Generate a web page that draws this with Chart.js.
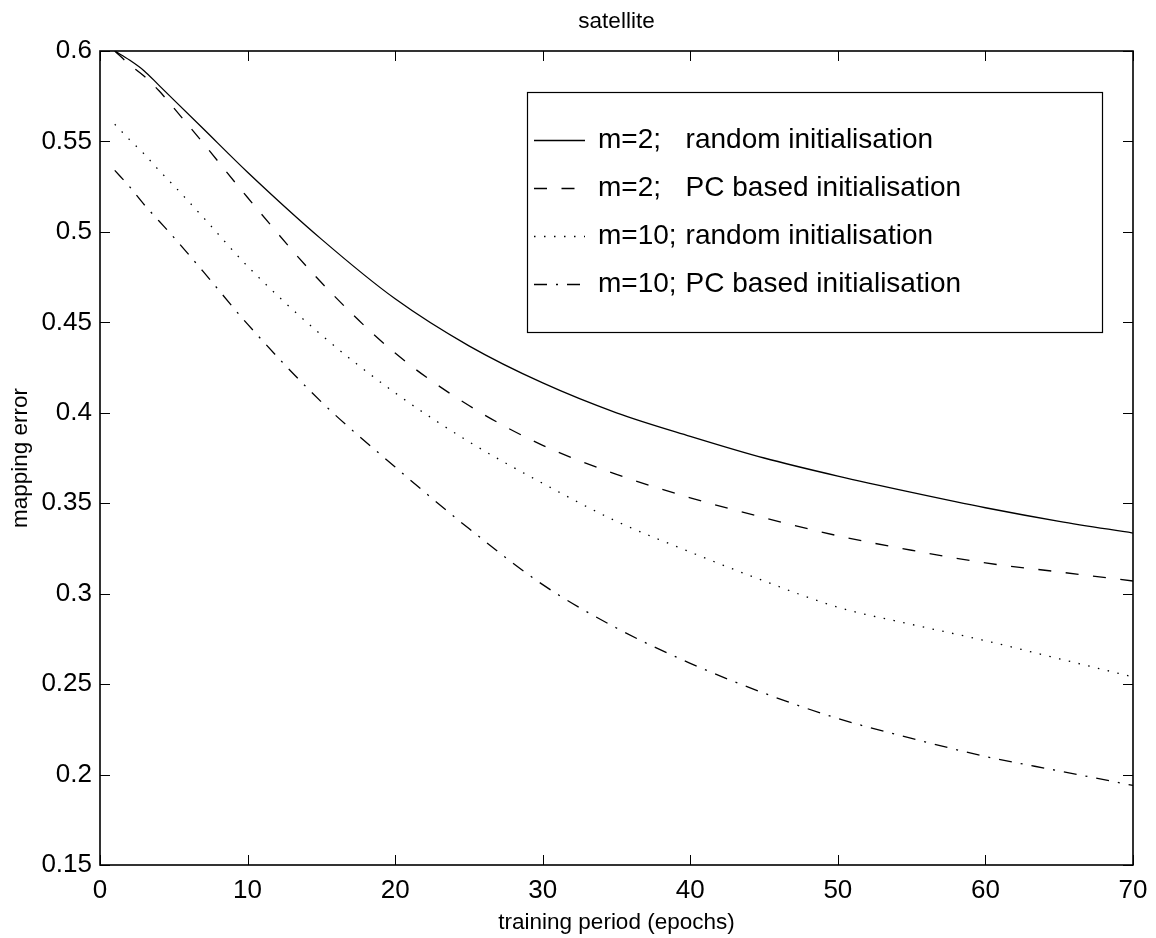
<!DOCTYPE html>
<html>
<head>
<meta charset="utf-8">
<script src="https://cdn.jsdelivr.net/npm/chart.js@4.4.1/dist/chart.umd.min.js"></script>
<style>
	body { margin: 0; background: #fff; }
	canvas { display: block; }
</style>
</head>
<body>
<canvas id="errorChart" width="1156" height="938"></canvas>
<script>
// values
const epochs    = [1, 2, 3, 4, 5, 7, 10, 15, 20, 25, 30, 35, 40, 45, 50, 55, 60, 65, 70];
const m2Random  = [0.600, 0.595, 0.589, 0.581, 0.573, 0.557, 0.533, 0.496, 0.463, 0.437, 0.4165, 0.400, 0.387, 0.375, 0.365, 0.356, 0.3475, 0.340, 0.3335];
const m2Pc      = [0.600, 0.5925, 0.586, 0.578, 0.5685, 0.549, 0.519, 0.472, 0.433, 0.404, 0.382, 0.366, 0.353, 0.342, 0.332, 0.324, 0.317, 0.312, 0.307];
const m10Random = [0.5595, 0.551, 0.543, 0.534, 0.5256, 0.508, 0.481, 0.443, 0.411, 0.384, 0.361, 0.340, 0.323, 0.307, 0.2925, 0.283, 0.274, 0.264, 0.254];
const m10Pc     = [0.534, 0.525, 0.515, 0.506, 0.497, 0.478, 0.449, 0.406, 0.370, 0.336, 0.305, 0.281, 0.2615, 0.245, 0.231, 0.220, 0.210, 0.202, 0.194];

const seriesLabels = [
	'm=2;   random initialisation',
	'm=2;   PC based initialisation',
	'm=10; random initialisation',
	'm=10; PC based initialisation'
];
const xTicks = [0, 10, 20, 30, 40, 50, 60, 70];
const yTicks = [0.15, 0.2, 0.25, 0.3, 0.35, 0.4, 0.45, 0.5, 0.55, 0.6];

const FONT = 'Liberation Sans, Arial, Helvetica, sans-serif';

function toPoints(values) {
	return epochs.map((e, i) => ({ x: e, y: values[i] }));
}

function makeSeries(label, values, dash) {
	return {
		label: label,
		data: toPoints(values),
		borderColor: '#000',
		borderWidth: 1.3,
		borderDash: dash,
		pointRadius: 0,
		fill: false,
		cubicInterpolationMode: 'monotone'
	};
}

// MATLAB style box with inward ticks on all four sides
const boxPlugin = {
	id: 'boxPlugin',
	afterDraw(chart) {
		const { ctx, chartArea: a, scales } = chart;
		const len = 10;
		ctx.save();
		ctx.strokeStyle = '#000';
		ctx.lineWidth = 1;
		ctx.setLineDash([]);
		ctx.beginPath();
		xTicks.forEach(v => {
			const px = Math.round(scales.x.getPixelForValue(v)) + 0.5;
			ctx.moveTo(px, a.bottom); ctx.lineTo(px, a.bottom - len);
			ctx.moveTo(px, a.top); ctx.lineTo(px, a.top + len);
		});
		yTicks.forEach(v => {
			const py = Math.round(scales.y.getPixelForValue(v)) + 0.5;
			ctx.moveTo(a.left, py); ctx.lineTo(a.left + len, py);
			ctx.moveTo(a.right, py); ctx.lineTo(a.right - len, py);
		});
		ctx.stroke();
		ctx.lineWidth = 1.6;
		ctx.strokeRect(a.left, a.top, a.right - a.left, a.bottom - a.top);
		ctx.restore();
	}
};

// legend box in the upper right, like the original figure
const legendPlugin = {
	id: 'legendPlugin',
	afterDatasetsDraw(chart) {
		const { ctx } = chart;
		const box = { left: 527, top: 92, right: 1102, bottom: 332 };
		ctx.save();
		ctx.fillStyle = '#fff';
		ctx.fillRect(box.left, box.top, box.right - box.left, box.bottom - box.top);
		ctx.strokeStyle = '#000';
		ctx.lineWidth = 1.2;
		ctx.setLineDash([]);
		ctx.strokeRect(box.left + 0.5, box.top + 0.5, box.right - box.left, box.bottom - box.top);

		ctx.font = '28px ' + FONT;
		ctx.fillStyle = '#000';
		ctx.textBaseline = 'middle';
		const textX = 598;
		const descX = textX + ctx.measureText('m=10;').width + 9;
		const rowGap = (box.bottom - box.top) / (chart.data.datasets.length + 1);
		chart.data.datasets.forEach((ds, i) => {
			const y = Math.round(box.top + rowGap * (i + 1)) + 0.5;
			ctx.lineWidth = ds.borderWidth;
			ctx.setLineDash(ds.borderDash || []);
			ctx.beginPath();
			ctx.moveTo(534, y);
			ctx.lineTo(585, y);
			ctx.stroke();
			const parts = ds.label.split(/;\s*/);
			ctx.fillText(parts[0] + ';', textX, y);
			ctx.fillText(parts[1], descX, y);
		});
		ctx.restore();
	}
};

const ctx = document.getElementById('errorChart').getContext('2d');
const chart = new Chart(ctx, {
	type: 'line',
	data: {
		datasets: [
			makeSeries(seriesLabels[0], m2Random, []),
			makeSeries(seriesLabels[1], m2Pc, [13, 14.5]),
			makeSeries(seriesLabels[2], m10Random, [1.5, 8.5]),
			makeSeries(seriesLabels[3], m10Pc, [13, 9, 2, 9])
		]
	},
	options: {
		responsive: false,
		animation: false,
		devicePixelRatio: 1,
		layout: { padding: { left: 0, right: 23, top: 0, bottom: 0 } },
		plugins: {
			legend: { display: false },
			tooltip: { enabled: false },
			title: {
				display: true,
				text: 'satellite',
				fullSize: false,
				color: '#000',
				font: { family: FONT, size: 22.5, weight: 'normal' },
				padding: { top: 8, bottom: 16 }
			}
		},
		scales: {
			x: {
				type: 'linear',
				min: 0,
				max: 70,
				afterBuildTicks: scale => { scale.ticks = xTicks.map(v => ({ value: v })); },
				afterFit: scale => { scale.height = 73; scale.paddingRight = 0; },
				grid: { display: false, drawTicks: false },
				border: { display: false },
				ticks: {
					color: '#000',
					padding: 10,
					maxRotation: 0,
					autoSkip: false,
					font: { family: FONT, size: 26 }
				},
				title: {
					display: true,
					text: 'training period (epochs)',
					color: '#000',
					font: { family: FONT, size: 22.5 },
					padding: { top: 0, bottom: 2 }
				}
			},
			y: {
				type: 'linear',
				min: 0.15,
				max: 0.6,
				afterBuildTicks: scale => { scale.ticks = yTicks.map(v => ({ value: v })); },
				afterFit: scale => { scale.width = 100; },
				grid: { display: false, drawTicks: false },
				border: { display: false },
				ticks: {
					color: '#000',
					padding: 8,
					autoSkip: false,
					font: { family: FONT, size: 26 },
					callback: v => String(Number(v.toFixed(2)))
				},
				title: {
					display: true,
					text: 'mapping error',
					color: '#000',
					font: { family: FONT, size: 22.5 },
					padding: { top: 7, bottom: 0 }
				}
			}
		}
	},
	plugins: [boxPlugin, legendPlugin]
});
</script>
</body>
</html>
